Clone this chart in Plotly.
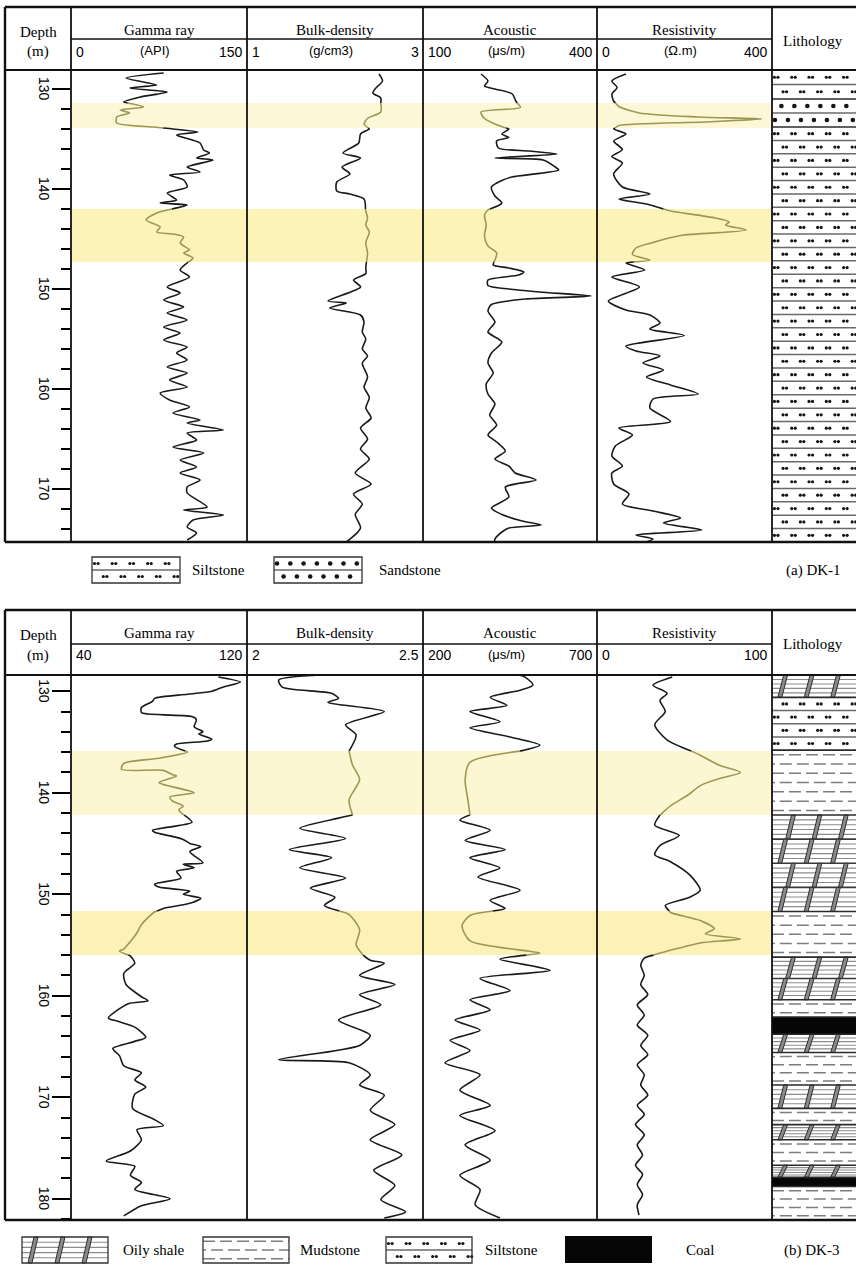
import numpy as np
import plotly.graph_objects as go

W, H = 856, 1265

# ---------------- Well DK-1 log readings (depth in m) ----------------
dk1_gr_depth = [128.4, 128.9, 129.6, 129.9, 130.3, 130.8, 131.3, 131.8, 132.1, 132.4, 132.8, 133.4, 133.8, 134.0,
                134.3, 134.6, 135.4, 136.1, 136.4, 136.9, 137.1, 137.8, 138.3, 138.6, 139.1, 139.8, 140.4, 141.1,
                141.4, 141.6, 142.4, 143.1, 143.8, 144.3, 144.5, 144.8, 145.4, 146.1, 146.4, 146.9, 147.4, 148.1,
                148.8, 149.8, 150.4, 151.1, 151.8, 152.4, 153.1, 153.8, 154.4, 155.1, 155.8, 156.4, 157.1, 157.8,
                158.4, 159.1, 159.8, 160.4, 161.1, 161.8, 162.4, 163.1, 163.4, 164.1, 164.4, 165.1, 165.8, 166.4,
                167.1, 167.8, 168.4, 169.1, 169.8, 170.4, 171.8, 172.1, 172.6, 173.1, 173.8, 174.4, 175.1]
dk1_gr = [79, 47, 73, 50, 82, 59, 45, 62, 42, 50, 39, 39, 70, 87,
          108, 90, 110, 113, 118, 107, 121, 99, 110, 84, 96, 99, 82, 90,
          76, 99, 73, 64, 76, 73, 87, 96, 93, 101, 96, 104, 99, 93,
          101, 82, 93, 79, 96, 82, 99, 79, 93, 79, 99, 90, 99, 82,
          99, 84, 99, 76, 84, 101, 87, 110, 99, 130, 99, 107, 87, 113,
          93, 107, 93, 110, 99, 99, 116, 96, 130, 104, 99, 107, 99]

dk1_den_depth = [128.5, 129.2, 129.85, 130.4, 130.9, 132.3, 132.95, 133.5, 134.0, 134.5, 135.4, 136.4, 136.9, 137.8,
                 138.5, 139.3, 140.2, 140.5, 141.0, 142.2, 142.9, 143.6, 144.3, 145.35, 146.4, 147.8, 148.45, 149.1,
                 149.8, 151.2, 151.4, 151.9, 152.6, 153.3, 154.3, 155.0, 156.0, 156.7, 157.4, 158.8, 159.8, 160.85,
                 161.9, 162.9, 163.9, 165.0, 166.0, 167.0, 168.4, 169.5, 170.5, 171.5, 172.55, 173.9, 175.3]
dk1_den = [2.50, 2.54, 2.47, 2.43, 2.52, 2.52, 2.37, 2.33, 2.39, 2.29, 2.27, 2.09, 2.29, 2.08,
           2.17, 2.02, 2.02, 2.17, 2.33, 2.35, 2.37, 2.35, 2.39, 2.35, 2.37, 2.35, 2.35, 2.21,
           2.29, 1.92, 2.13, 1.94, 2.29, 2.33, 2.31, 2.35, 2.31, 2.37, 2.31, 2.37, 2.33, 2.39,
           2.35, 2.41, 2.29, 2.37, 2.29, 2.39, 2.23, 2.41, 2.21, 2.31, 2.23, 2.29, 2.13]

dk1_ac_depth = [128.5, 129.2, 129.7, 130.0, 130.5, 131.2, 131.85, 132.3, 132.95, 133.5, 134.0, 134.5, 134.85, 135.2,
                135.9, 136.2, 136.5, 136.9, 137.1, 137.8, 138.1, 138.8, 139.15, 139.8, 140.7, 141.4, 142.1, 142.6,
                143.6, 144.7, 145.7, 146.4, 147.6, 147.9, 148.3, 148.6, 149.1, 149.65, 150.0, 150.3, 150.7, 151.0,
                151.55, 152.2, 153.3, 154.3, 155.3, 156.4, 157.4, 158.4, 159.5, 160.5, 161.5, 162.6, 163.6, 164.6,
                165.3, 166.2, 167.0, 167.7, 168.4, 169.1, 169.8, 170.8, 171.9, 172.55, 173.2, 173.6, 173.9, 174.3,
                175.0, 175.65]
dk1_ac = [200, 212, 206, 224, 254, 260, 268, 200, 206, 224, 248, 236, 248, 227,
          230, 283, 331, 224, 307, 328, 334, 253, 236, 218, 224, 236, 212, 206,
          209, 206, 212, 227, 221, 248, 274, 265, 212, 212, 248, 301, 390, 277,
          218, 212, 224, 212, 236, 218, 212, 221, 209, 212, 224, 215, 227, 212,
          227, 242, 224, 248, 259, 295, 242, 248, 218, 236, 271, 304, 248, 236,
          224, 224]

dk1_res_depth = [128.5, 129.2, 129.85, 130.5, 131.2, 131.75, 132.4, 132.8, 133.0, 133.3, 133.65, 134.0, 134.5, 135.2,
                 136.05, 136.75, 137.4, 138.5, 139.8, 140.5, 141.0, 141.5, 142.2, 142.9, 143.3, 143.6, 144.1, 144.65,
                 145.35, 145.9, 146.55, 147.1, 147.4, 148.1, 148.8, 149.8, 151.2, 152.1, 152.6, 153.4, 154.0, 154.65,
                 155.7, 156.2, 156.7, 157.4, 158.1, 158.8, 159.6, 160.5, 161.0, 161.9, 163.25, 163.9, 164.6, 165.7,
                 166.7, 167.7, 168.4, 169.5, 170.5, 171.5, 172.2, 172.9, 173.4, 174.1, 174.6, 175.0, 175.5]
dk1_res = [66, 34, 46, 34, 38, 50, 97, 231, 376, 247, 50, 38, 66, 38,
           58, 34, 58, 38, 58, 121, 50, 113, 168, 270, 302, 294, 341, 191,
           128, 89, 81, 121, 66, 109, 34, 97, 26, 66, 121, 144, 121, 199,
           66, 89, 144, 105, 152, 113, 168, 231, 128, 121, 168, 50, 81, 42,
           34, 58, 34, 38, 73, 58, 128, 191, 152, 239, 89, 128, 97]

dk1_bands = [(131.4, 133.9), (142.0, 147.3)]
dk1_lith_top = [128.1, 131.0, 133.8]
dk1_lith_base = [131.0, 133.8, 175.3]
dk1_lith = ["Siltstone", "Sandstone", "Siltstone"]

# ---------------- Well DK-3 log readings ----------------
dk3_gr_depth = [128.6, 129.1, 129.6, 130.0, 130.3, 130.7, 131.0, 131.6, 132.1, 132.25, 132.5, 132.8, 133.5, 134.0,
                134.2, 134.7, 134.9, 135.2, 135.4, 136.0, 136.6, 137.1, 137.7, 137.8, 138.2, 138.35, 139.0, 139.2,
                140.0, 140.4, 140.8, 141.3, 141.7, 142.9, 143.7, 143.9, 144.3, 144.6, 145.0, 145.3, 145.8, 146.9,
                147.05, 147.4, 147.75, 148.4, 149.0, 149.3, 149.7, 150.0, 150.4, 150.9, 151.4, 151.75, 152.3, 153.0,
                153.8, 154.4, 155.4, 155.6, 156.1, 156.8, 157.8, 158.9, 160.1, 160.5, 160.8, 162.2, 162.5, 163.1,
                164.1, 164.5, 165.2, 165.9, 166.9, 167.6, 168.3, 169.0, 169.7, 171.1, 172.1, 172.8, 173.2, 174.2,
                175.3, 176.3, 176.8, 177.7, 178.4, 179.1, 180.0, 180.7, 181.7]
dk3_gr = [107, 117, 109, 104, 93, 78, 77, 72, 72, 75, 95, 97, 96, 100,
          98, 104, 102, 88, 87, 93, 80, 64, 63, 82, 86, 88, 80, 82,
          96, 85, 86, 91, 89, 95, 77, 78, 86, 91, 94, 99, 94, 100,
          91, 96, 88, 90, 78, 80, 94, 91, 99, 94, 82, 78, 75, 72,
          70, 68, 64, 62, 67, 69, 64, 65, 72, 75, 66, 57, 61, 69,
          74, 69, 59, 62, 64, 72, 69, 74, 69, 68, 77, 82, 70, 72,
          67, 56, 69, 67, 72, 69, 85, 72, 64]

dk3_den_depth = [128.4, 128.9, 129.6, 130.2, 130.7, 131.1, 132.0, 133.3, 134.3, 135.9, 137.3, 138.7, 140.7, 142.2,
                 142.5, 143.5, 144.5, 145.6, 146.4, 147.4, 148.4, 149.4, 150.3, 151.1, 152.0, 153.5, 155.0, 156.0,
                 156.5, 156.8, 158.0, 158.9, 159.9, 160.9, 162.4, 163.9, 164.9, 166.3, 166.6, 167.8, 168.8, 169.8,
                 171.3, 172.7, 174.2, 175.7, 177.2, 178.7, 180.1, 181.3, 181.9]
dk3_den = [2.21, 2.09, 2.10, 2.24, 2.26, 2.23, 2.39, 2.28, 2.31, 2.29, 2.30, 2.32, 2.29, 2.30,
           2.26, 2.15, 2.28, 2.12, 2.24, 2.15, 2.28, 2.18, 2.25, 2.22, 2.29, 2.32, 2.31, 2.33,
           2.35, 2.39, 2.32, 2.42, 2.32, 2.38, 2.26, 2.35, 2.32, 2.09, 2.29, 2.35, 2.32, 2.39,
           2.35, 2.42, 2.35, 2.44, 2.36, 2.42, 2.38, 2.45, 2.39]

dk3_ac_depth = [128.4, 128.5, 129.4, 129.9, 130.6, 131.4, 132.0, 133.0, 133.6, 134.5, 135.3, 135.9, 137.0, 138.7,
                140.7, 142.2, 142.7, 143.7, 144.7, 145.6, 146.4, 147.4, 148.3, 149.6, 150.6, 151.4, 152.1, 153.1,
                154.6, 155.8, 156.4, 157.5, 158.3, 159.5, 160.4, 161.4, 162.4, 163.4, 164.4, 165.4, 166.6, 167.8,
                169.3, 170.8, 171.8, 173.3, 174.7, 176.2, 177.7, 179.1, 180.6, 181.9]
dk3_ac = [326, 487, 516, 479, 393, 441, 335, 421, 335, 450, 536, 479, 335, 321,
          329, 335, 306, 393, 321, 436, 335, 421, 358, 479, 393, 436, 335, 312,
          335, 536, 421, 565, 364, 450, 335, 393, 292, 364, 278, 335, 263, 364,
          306, 393, 306, 407, 321, 393, 306, 364, 350, 421]

dk3_res_depth = [128.6, 129.4, 130.2, 130.9, 132.0, 133.3, 134.8, 136.3, 137.3, 138.0, 138.6, 139.3, 140.1, 141.3,
                 142.2, 143.2, 144.2, 145.2, 146.1, 146.8, 148.1, 149.6, 150.3, 151.1, 151.8, 152.6, 153.4, 153.9,
                 154.4, 154.8, 155.3, 155.8, 156.3, 157.0, 158.0, 158.9, 159.9, 160.9, 161.9, 162.9, 163.9, 164.9,
                 165.8, 166.8, 167.8, 168.8, 169.8, 170.8, 171.7, 172.7, 173.7, 174.7, 175.7, 176.7, 177.6, 178.6,
                 179.6, 180.6, 181.6]
dk3_res = [43, 32, 40, 36, 39, 33, 40, 59, 70, 82, 70, 59, 53, 42,
           36, 33, 47, 36, 33, 42, 53, 59, 53, 39, 42, 59, 67, 62,
           82, 59, 47, 36, 27, 25, 27, 25, 29, 23, 27, 23, 29, 25,
           29, 23, 27, 25, 29, 23, 27, 22, 27, 23, 26, 22, 26, 23,
           26, 23, 24]

dk3_bands = [(135.9, 142.2), (151.65, 156.0)]
dk3_lith_top = [128.4, 130.6, 135.8, 142.2, 151.7, 156.2, 160.4, 162.1, 163.8, 165.6, 168.8, 171.1, 172.7, 174.2,
                176.7, 177.9, 178.8]
dk3_lith_base = [130.6, 135.8, 142.2, 151.7, 156.2, 160.4, 162.1, 163.8, 165.6, 168.8, 171.1, 172.7, 174.2, 176.7,
                 177.9, 178.8, 182.1]
dk3_lith = ["Oily shale", "Siltstone", "Mudstone", "Oily shale", "Mudstone", "Oily shale", "Mudstone", "Coal",
            "Oily shale", "Mudstone", "Oily shale", "Mudstone", "Oily shale", "Mudstone", "Oily shale", "Coal",
            "Mudstone"]

track_names = ["Gamma ray", "Bulk-density", "Acoustic", "Resistivity"]
dk1_scale_min = [0, 1, 100, 0]
dk1_scale_max = [150, 3, 400, 400]
dk1_units = ["(API)", "(g/cm3)", "(μs/m)", "(Ω.m)"]
dk3_scale_min = [40, 2, 200, 0]
dk3_scale_max = [120, 2.5, 700, 100]
dk3_units = ["", "", "(μs/m)", ""]
dk1_depth_ticks = [130, 140, 150, 160, 170]
dk3_depth_ticks = [130, 140, 150, 160, 170, 180]

# ---------------- page geometry (pixels) ----------------
COL_X = [5, 71, 247, 423, 597, 772, 858]
PANELS = [
    dict(top=7, sub=39, head=70, bottom=542, drange=(128.1, 175.3), pxm=10.0,
         curves=[(dk1_gr_depth, dk1_gr), (dk1_den_depth, dk1_den), (dk1_ac_depth, dk1_ac), (dk1_res_depth, dk1_res)],
         smin=dk1_scale_min, smax=dk1_scale_max, units=dk1_units, bands=dk1_bands,
         band_colors=["#fdf7d7", "#fcf3b9"], ticks=dk1_depth_ticks,
         lith=(dk1_lith_top, dk1_lith_base, dk1_lith)),
    dict(top=610, sub=644, head=675, bottom=1220, drange=(128.4, 182.1), pxm=10.15,
         curves=[(dk3_gr_depth, dk3_gr), (dk3_den_depth, dk3_den), (dk3_ac_depth, dk3_ac), (dk3_res_depth, dk3_res)],
         smin=dk3_scale_min, smax=dk3_scale_max, units=dk3_units, bands=dk3_bands,
         band_colors=["#fdf6d3", "#fcf2b7"], ticks=dk3_depth_ticks,
         lith=(dk3_lith_top, dk3_lith_base, dk3_lith)),
]

INK = "#1a1a1a"
BAND_INK = "#9a9852"
SERIF = "Liberation Serif"
SANS = "Liberation Sans"


def px(x):
    return x / W


def py(y):
    return 1 - y / H


def split_by_bands(depth, value, bands):
    """Return depth samples plus the curve split into plain and highlighted parts."""
    d = np.asarray(depth, float)
    v = np.asarray(value, float)
    edges = [e for band in bands for e in band if d[0] < e < d[-1]]
    dd = np.unique(np.concatenate([d, edges]))
    vv = np.interp(dd, d, v)
    inside = np.zeros(dd.size, bool)
    strict = np.zeros(dd.size, bool)
    for a, b in bands:
        inside |= (dd >= a - 1e-9) & (dd <= b + 1e-9)
        strict |= (dd > a + 1e-9) & (dd < b - 1e-9)
    plain = [None if s else float(x) for x, s in zip(vv, strict)]
    high = [float(x) if i else None for x, i in zip(vv, inside)]
    return dd.tolist(), plain, high


def add_pattern(kind, xr, yr, x0, x1, ya, yb, u, shapes, dots, phase=0):
    """Fill x0..x1, ya..yb (y grows downward, u pixels per y unit) with a lithology symbol."""
    def hline(y, color, width, dash=None, xa=None, xb=None):
        ln = dict(color=color, width=width)
        if dash:
            ln["dash"] = dash
        shapes.append(dict(type="line", xref=xr, yref=yr, x0=x0 if xa is None else xa,
                           x1=x1 if xb is None else xb, y0=y, y1=y, line=ln, layer="above"))

    h = (yb - ya) * u
    if kind == "Coal":
        shapes.append(dict(type="rect", xref=xr, yref=yr, x0=x0, x1=x1, y0=ya, y1=yb,
                           fillcolor="#060606", line=dict(width=0), layer="above"))
    elif kind in ("Siltstone", "Sandstone"):
        n = max(1, int(round(h / 13.5)))
        row = (yb - ya) / n
        key = (xr, yr, 3.2 if kind == "Siltstone" else 4.6)
        dx, dy = dots.setdefault(key, ([], []))
        for i in range(n):
            yt = ya + i * row
            if i:
                hline(yt, "#6a6a6a", 1.5)
            yc = yt + row / 2
            if kind == "Siltstone":
                start = 2.5 if (i + phase) % 2 == 0 else 11.3
                for x in np.arange(x0 + start, x1 - 2, 17.7):
                    dx += [x, x + 3.6]
                    dy += [yc, yc]
            else:
                start = 3.0 if (i + phase) % 2 == 0 else 9.6
                for x in np.arange(x0 + start, x1 - 1, 13.3):
                    dx.append(x)
                    dy.append(yc)
    elif kind == "Mudstone":
        n = max(1, int(round(h / 9.0)))
        step = (yb - ya) / n
        for i in range(n):
            y = ya + (i + 0.5) * step
            if (i + phase) % 2 == 0:
                hline(y, "#7d7d7d", 1.5, dash="12px,5px")
            else:
                hline(y, "#7d7d7d", 1.5, xa=x0, xb=x0 + 3)
                hline(y, "#7d7d7d", 1.5, dash="12px,5px", xa=x0 + 8)
    elif kind == "Oily shale":
        n = max(1, int(round(h / 25.0)))
        blk = (yb - ya) / n
        for i in range(n):
            yt = ya + i * blk
            ybt = yt + blk
            if i:
                hline(yt, "#3a3a3a", 1.6)
            for j in range(1, 5):
                hline(yt + j * blk / 5, "#8c8c8c", 1.1)
            start = 6 if (i + phase) % 2 == 0 else 14
            slant = 6.0
            for x in np.arange(x0 + start, x1 - 8, 27):
                path = (f"M {x:.2f},{ybt:.4f} L {x + 4:.2f},{ybt:.4f} "
                        f"L {x + 4 + slant:.2f},{yt:.4f} L {x + slant:.2f},{yt:.4f} Z")
                shapes.append(dict(type="path", xref=xr, yref=yr, path=path, fillcolor="#8a8a8a",
                                   line=dict(color="#2e2e2e", width=1.0), layer="above"))


fig = go.Figure()
layout = dict(width=W, height=H, margin=dict(l=0, r=0, t=0, b=0), paper_bgcolor="white",
              plot_bgcolor="rgba(0,0,0,0)", showlegend=False)
shapes, annotations = [], []
dots = {}

for p, P in enumerate(PANELS):
    yid = "y" if p == 0 else "y2"
    yname = "yaxis" if p == 0 else "yaxis2"
    ydom = [py(P["bottom"]), py(P["head"])]
    x_ids = []
    for k in range(5):
        idx = p * 5 + k + 1
        xid = "x" if idx == 1 else f"x{idx}"
        xname = "xaxis" if idx == 1 else f"xaxis{idx}"
        x_ids.append(xid)
        dom = [px(COL_X[k + 1]), min(px(COL_X[k + 2]), 1.0)]
        rng = [P["smin"][k], P["smax"][k]] if k < 4 else [0, COL_X[6] - COL_X[5]]
        layout[xname] = dict(domain=dom, range=rng, anchor=yid, visible=False, fixedrange=True)
    depth_top, depth_bot = P["drange"]
    layout[yname] = dict(domain=ydom, range=[depth_bot, depth_top], anchor=x_ids[0], side="left",
                         tickmode="array", tickvals=P["ticks"], ticks="outside", ticklen=18, tickwidth=1.5,
                         tickcolor="black", showticklabels=False,
                         minor=dict(tick0=130, dtick=2, ticks="outside", ticklen=9, tickwidth=1.5,
                                    tickcolor="black", showgrid=False),
                         showgrid=False, zeroline=False, showline=False, fixedrange=True)
    # rotated depth labels beside the major ticks
    for t in P["ticks"]:
        annotations.append(dict(x=px(44), y=t, xref="paper", yref=yid, text=str(t), textangle=90,
                                showarrow=False, xanchor="center", yanchor="middle",
                                font=dict(family=SANS, size=14, color="black")))

    # highlighted intervals
    for (a, b), col in zip(P["bands"], P["band_colors"]):
        shapes.append(dict(type="rect", xref="paper", yref=yid, x0=px(COL_X[1]), x1=px(COL_X[5]),
                           y0=a, y1=b, fillcolor=col, line=dict(width=0), layer="below"))

    # log curves
    for k, (dep, val) in enumerate(P["curves"]):
        dd, plain, high = split_by_bands(dep, val, P["bands"])
        fig.add_trace(go.Scatter(x=plain, y=dd, xaxis=x_ids[k], yaxis=yid, mode="lines",
                                 line=dict(color=INK, width=1.6, shape="spline", smoothing=0.7),
                                 connectgaps=False, hoverinfo="skip"))
        fig.add_trace(go.Scatter(x=high, y=dd, xaxis=x_ids[k], yaxis=yid, mode="lines",
                                 line=dict(color=BAND_INK, width=1.6, shape="spline", smoothing=0.7),
                                 connectgaps=False, hoverinfo="skip"))

    # lithology column
    tops, bases, kinds = P["lith"]
    lw = COL_X[6] - COL_X[5]
    for i, (t, b, kind) in enumerate(zip(tops, bases, kinds)):
        add_pattern(kind, x_ids[4], yid, 0, lw, t, b, P["pxm"], shapes, dots, phase=i)
        if i:
            shapes.append(dict(type="line", xref=x_ids[4], yref=yid, x0=0, x1=lw, y0=t, y1=t,
                               line=dict(color="#2a2a2a", width=1.6), layer="above"))

    # frame and header rules
    T, S, Hd, B = P["top"], P["sub"], P["head"], P["bottom"]

    def rule(x0, y0, x1, y1, w):
        shapes.append(dict(type="line", xref="paper", yref="paper", x0=px(x0), y0=py(y0), x1=px(x1), y1=py(y1),
                           line=dict(color="#111", width=w), layer="above"))
    rule(COL_X[0], T, COL_X[6], T, 2.4)
    rule(COL_X[0], B, COL_X[6], B, 2.4)
    rule(COL_X[0], T, COL_X[0], B, 2.4)
    rule(COL_X[0], Hd, COL_X[6], Hd, 2.0)
    rule(COL_X[1], S, COL_X[5], S, 1.5)
    for x in COL_X[1:6]:
        rule(x, T, x, B, 1.8)

    # header text
    def text(x, y, s, size, family, anchor="center"):
        annotations.append(dict(x=px(x), y=py(y), xref="paper", yref="paper", text=s, showarrow=False,
                                xanchor=anchor, yanchor="middle", font=dict(family=family, size=size, color="black")))
    text(38, T + 25, "Depth", 15, SERIF)
    text(38, T + 45, "(m)", 15, SERIF)
    for k in range(4):
        xl, xr_ = COL_X[k + 1], COL_X[k + 2]
        text((xl + xr_) / 2, T + 23, track_names[k], 15, SERIF)
        text(xl + 3, T + 45, f"{P['smin'][k]:g}", 14, SANS, "left")
        text(xr_ - 2, T + 45, f"{P['smax'][k]:g}", 14, SANS, "right")
        if P["units"][k]:
            text((xl + xr_) / 2 - 4, T + 44, P["units"][k], 13, SANS)
    text(813, T + 34, "Lithology", 15, SERIF)

# ---------------- legends (full-page pixel overlay) ----------------
layout["xaxis11"] = dict(domain=[0, 1], range=[0, W], anchor="y3", visible=False, fixedrange=True)
layout["yaxis3"] = dict(domain=[0, 1], range=[H, 0], anchor="x11", visible=False, fixedrange=True)


def legend_icon(kind, x0, x1, y0, y1):
    add_pattern(kind, "x11", "y3", x0, x1, y0, y1, 1.0, shapes, dots)
    if kind != "Coal":
        shapes.append(dict(type="rect", xref="x11", yref="y3", x0=x0, x1=x1, y0=y0, y1=y1,
                           line=dict(color="#333", width=1.3), layer="above"))


def legend_text(x, y, s, anchor="left"):
    annotations.append(dict(x=x, y=y, xref="x11", yref="y3", text=s, showarrow=False, xanchor=anchor,
                            yanchor="middle", font=dict(family=SERIF, size=15, color="black")))


legend_icon("Siltstone", 92, 180, 557, 583)
legend_text(190, 570, "Siltstone")
legend_icon("Sandstone", 274, 362, 557, 583)
legend_text(377, 570, "Sandstone")
legend_text(843, 570, "(a) DK-1", "right")

legend_icon("Oily shale", 22, 108, 1237, 1263)
legend_text(121, 1250, "Oily shale")
legend_icon("Mudstone", 203, 289, 1237, 1263)
legend_text(298, 1250, "Mudstone")
legend_icon("Siltstone", 386, 472, 1237, 1263)
legend_text(483, 1250, "Siltstone")
legend_icon("Coal", 565, 652, 1236, 1263)
legend_text(684, 1250, "Coal")
legend_text(841, 1250, "(b) DK-3", "right")

# dot symbols of the sand/silt patterns
for (xr, yr, size), (dx, dy) in dots.items():
    fig.add_trace(go.Scatter(x=dx, y=dy, xaxis=xr, yaxis=yr, mode="markers", hoverinfo="skip",
                             marker=dict(size=size, color="#151515", line=dict(width=0)), cliponaxis=True))

layout["shapes"] = shapes
layout["annotations"] = annotations
fig.update_layout(**layout)
fig.write_html("out.html")
